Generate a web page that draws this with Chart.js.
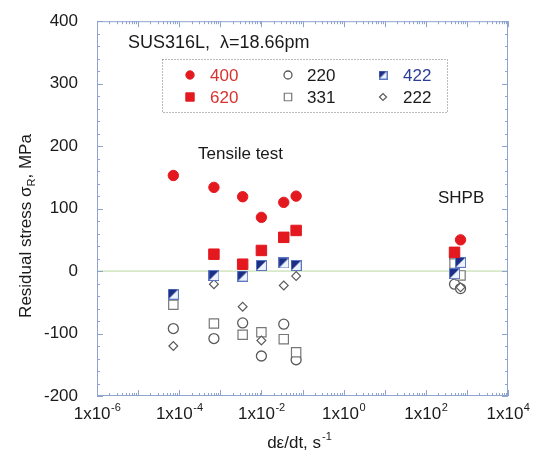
<!DOCTYPE html>
<html>
<head>
<meta charset="utf-8">
<script src="https://cdn.jsdelivr.net/npm/chart.js@4.4.1/dist/chart.umd.min.js"></script>
<style>
html, body { margin: 0; padding: 0; background: #fff; }
#wrap { width: 535px; height: 456px; }
</style>
</head>
<body>
<div id="wrap"><canvas id="chart" width="535" height="456"></canvas></div>
<script>
// strain rates (s^-1) and residual stress (MPa) for each reflection
var rate400 = [7.2e-5, 7e-4, 3.5e-3, 1e-2, 3.5e-2, 7e-2, 7e2];
var stress400 = [153, 134, 119, 86, 110, 120, 50];

var rate620 = [7e-4, 3.5e-3, 1e-2, 3.5e-2, 7e-2, 5e2];
var stress620 = [27, 11, 33, 54, 65, 30];

var rate220 = [7.2e-5, 7e-4, 3.5e-3, 1e-2, 3.5e-2, 7e-2, 5e2, 5e2, 7e2];
var stress220 = [-92, -108, -83, -136, -85, -142, 22, -21, -28];

var rate331 = [7.2e-5, 7e-4, 3.5e-3, 1e-2, 3.5e-2, 7e-2, 5e2, 7e2];
var stress331 = [-54, -84, -102, -98, -109, -130, 12, -7];

var rate422 = [7.2e-5, 7e-4, 3.5e-3, 1e-2, 3.5e-2, 7e-2, 7e2, 5e2];
var stress422 = [-37, -7, -8, 9, 13, 9, 14, -4];

var rate222 = [7.2e-5, 7e-4, 3.5e-3, 1e-2, 3.5e-2, 7e-2, 7e2];
var stress222 = [-120, -21, -57, -111, -23, -8, -26];

var xTicks = [1e-6, 1e-4, 1e-2, 1e0, 1e2, 1e4];
var yMin = -200, yMax = 400, yStep = 100;

var FONT = '"Liberation Sans", Arial, Helvetica, sans-serif';
var RED = '#e3191f';
var GREY = '#5a5a5a';
var AXIS = '#8fa3d0';

function zip(xs, ys) {
    var pts = [];
    for (var i = 0; i < xs.length; i++) pts.push({ x: xs[i], y: ys[i] });
    return pts;
}

// half dark / half light square used for 422
function make422Marker(size) {
    var c = document.createElement('canvas');
    c.width = size; c.height = size;
    var g = c.getContext('2d');
    g.fillStyle = '#eef2fa';
    g.fillRect(0, 0, size, size);
    g.fillStyle = '#1c2f86';
    g.beginPath();
    g.moveTo(0, 0); g.lineTo(size, 0); g.lineTo(0, size); g.closePath();
    g.fill();
    g.strokeStyle = '#5b78c0';
    g.lineWidth = 1;
    g.strokeRect(0.5, 0.5, size - 1, size - 1);
    return c;
}
var marker422 = make422Marker(11);
var marker422small = make422Marker(9);

var decor = {
    id: 'decor',
    beforeDatasetsDraw: function(chart) {
        var ctx = chart.ctx, a = chart.chartArea;
        var y0 = chart.scales.y.getPixelForValue(0);
        ctx.save();
        ctx.strokeStyle = '#b8d9a0';
        ctx.lineWidth = 1;
        ctx.beginPath();
        ctx.moveTo(a.left, y0);
        ctx.lineTo(a.right, y0);
        ctx.stroke();
        ctx.restore();
    },
    afterDraw: function(chart) {
        var ctx = chart.ctx, a = chart.chartArea;
        var xs = chart.scales.x, ys = chart.scales.y;
        ctx.save();

        // frame and inward ticks
        ctx.strokeStyle = AXIS;
        ctx.lineWidth = 1;
        ctx.strokeRect(a.left + 0.5, a.top + 0.5, a.right - a.left - 1, a.bottom - a.top - 1);
        ctx.beginPath();
        for (var v = yMin; v <= yMax; v += 20) {
            var py = Math.round(ys.getPixelForValue(v)) + 0.5;
            var len = (v % 100 === 0) ? 6 : 3;
            ctx.moveTo(a.left, py); ctx.lineTo(a.left + len, py);
            ctx.moveTo(a.right, py); ctx.lineTo(a.right - len, py);
        }
        for (var d = -6; d <= 4; d++) {
            for (var m = 1; m <= 9; m++) {
                if (d === 4 && m > 1) break;
                var px = Math.round(xs.getPixelForValue(m * Math.pow(10, d))) + 0.5;
                var l = (m === 1) ? 6 : 3;
                ctx.moveTo(px, a.bottom); ctx.lineTo(px, a.bottom - l);
                ctx.moveTo(px, a.top); ctx.lineTo(px, a.top + l);
            }
        }
        ctx.stroke();

        ctx.fillStyle = '#1a1a1a';
        ctx.textBaseline = 'alphabetic';

        // x tick labels with superscript exponent
        xTicks.forEach(function(t) {
            var e = String(Math.round(Math.log10(t)));
            var cx = xs.getPixelForValue(t);
            ctx.font = '17px ' + FONT;
            var w1 = ctx.measureText('1x10').width;
            ctx.font = '11px ' + FONT;
            var w2 = ctx.measureText(e).width;
            var x0 = cx - (w1 + w2) / 2;
            ctx.font = '17px ' + FONT;
            ctx.textAlign = 'left';
            ctx.fillText('1x10', x0, 419);
            ctx.font = '11px ' + FONT;
            ctx.fillText(e, x0 + w1 + 0.5, 411);
        });

        // x axis title
        ctx.font = '17px ' + FONT;
        var t1 = 'd\u03b5/dt, s';
        var tw1 = ctx.measureText(t1).width;
        ctx.font = '11px ' + FONT;
        var tw2 = ctx.measureText('-1').width;
        var tx = 299 - (tw1 + tw2) / 2;
        ctx.font = '17px ' + FONT;
        ctx.fillText(t1, tx, 448);
        ctx.font = '11px ' + FONT;
        ctx.fillText('-1', tx + tw1 + 1, 440);

        // y axis title, rotated, with subscript R
        ctx.save();
        ctx.translate(31, 226);
        ctx.rotate(-Math.PI / 2);
        ctx.font = '17px ' + FONT;
        var p1 = 'Residual stress \u03c3', p3 = ', MPa';
        var w1y = ctx.measureText(p1).width, w3y = ctx.measureText(p3).width;
        ctx.font = '11px ' + FONT;
        var w2y = ctx.measureText('R').width;
        var sx = -(w1y + w2y + w3y) / 2;
        ctx.font = '17px ' + FONT;
        ctx.fillText(p1, sx, 0);
        ctx.font = '11px ' + FONT;
        ctx.fillText('R', sx + w1y, 4);
        ctx.font = '17px ' + FONT;
        ctx.fillText(p3, sx + w1y + w2y, 0);
        ctx.restore();

        // annotations
        ctx.font = '18px ' + FONT;
        ctx.fillText('SUS316L,  \u03bb=18.66pm', 128, 48);
        ctx.font = '17px ' + FONT;
        ctx.fillText('Tensile test', 198, 159);
        ctx.fillText('SHPB', 438, 203);

        // legend box
        ctx.strokeStyle = '#777';
        ctx.setLineDash([1, 2]);
        ctx.strokeRect(162.5, 59.5, 285, 53);
        ctx.setLineDash([]);
        var items = [
            { ds: 0, label: '400', color: '#d9322e', mx: 190, tx: 210, y: 75 },
            { ds: 2, label: '220', color: '#1a1a1a', mx: 288, tx: 307, y: 75 },
            { ds: 4, label: '422', color: '#2b3f95', mx: 383, tx: 403, y: 75 },
            { ds: 1, label: '620', color: '#d9322e', mx: 190, tx: 210, y: 97 },
            { ds: 3, label: '331', color: '#1a1a1a', mx: 288, tx: 307, y: 97 },
            { ds: 5, label: '222', color: '#1a1a1a', mx: 383, tx: 403, y: 97 }
        ];
        items.forEach(function(it) {
            var ds = chart.data.datasets[it.ds];
            var style = ds.pointStyle === marker422 ? marker422small : ds.pointStyle;
            ctx.fillStyle = ds.pointBackgroundColor;
            ctx.strokeStyle = ds.pointBorderColor;
            ctx.lineWidth = ds.pointBorderWidth;
            Chart.helpers.drawPoint(ctx, {
                pointStyle: style,
                radius: ds.pointRadius * 0.8,
                rotation: 0,
                borderWidth: ds.pointBorderWidth
            }, it.mx, it.y);
            ctx.fillStyle = it.color;
            ctx.font = '17px ' + FONT;
            ctx.textAlign = 'left';
            ctx.textBaseline = 'middle';
            ctx.fillText(it.label, it.tx, it.y + 1);
        });

        ctx.restore();
    }
};

var chart = new Chart(document.getElementById('chart').getContext('2d'), {
    type: 'scatter',
    data: {
        datasets: [
            { label: '400', data: zip(rate400, stress400), pointStyle: 'circle', pointRadius: 5.2,
              pointBackgroundColor: RED, pointBorderColor: RED, pointBorderWidth: 1, order: 1 },
            { label: '620', data: zip(rate620, stress620), pointStyle: 'rect', pointRadius: 7.4,
              pointBackgroundColor: RED, pointBorderColor: RED, pointBorderWidth: 1, order: 0 },
            { label: '220', data: zip(rate220, stress220), pointStyle: 'circle', pointRadius: 5,
              pointBackgroundColor: '#fff', pointBorderColor: GREY, pointBorderWidth: 1.3, order: 5 },
            { label: '331', data: zip(rate331, stress331), pointStyle: 'rect', pointRadius: 6.6,
              pointBackgroundColor: '#fff', pointBorderColor: '#777', pointBorderWidth: 1.2, order: 4 },
            { label: '422', data: zip(rate422, stress422), pointStyle: marker422, pointRadius: 6,
              pointBackgroundColor: '#1c2f86', pointBorderColor: '#5b78c0', pointBorderWidth: 1, order: 2 },
            { label: '222', data: zip(rate222, stress222), pointStyle: 'rectRot', pointRadius: 4.4,
              pointBackgroundColor: '#fff', pointBorderColor: GREY, pointBorderWidth: 1.2, order: 3 }
        ]
    },
    options: {
        responsive: false,
        animation: false,
        events: [],
        layout: { padding: { top: 17, right: 27, left: 0, bottom: 0 } },
        plugins: { legend: { display: false }, tooltip: { enabled: false } },
        scales: {
            x: {
                type: 'logarithmic',
                min: 1e-6,
                max: 1e4,
                grid: { display: false },
                border: { display: false },
                ticks: { display: false },
                afterFit: function(s) { s.height = 60; }
            },
            y: {
                min: yMin,
                max: yMax,
                grid: { display: false },
                border: { display: false },
                ticks: {
                    stepSize: yStep,
                    padding: 11,
                    color: '#1a1a1a',
                    font: { size: 17, family: FONT }
                },
                afterFit: function(s) { s.width = 97; }
            }
        }
    },
    plugins: [decor]
});
</script>
</body>
</html>
